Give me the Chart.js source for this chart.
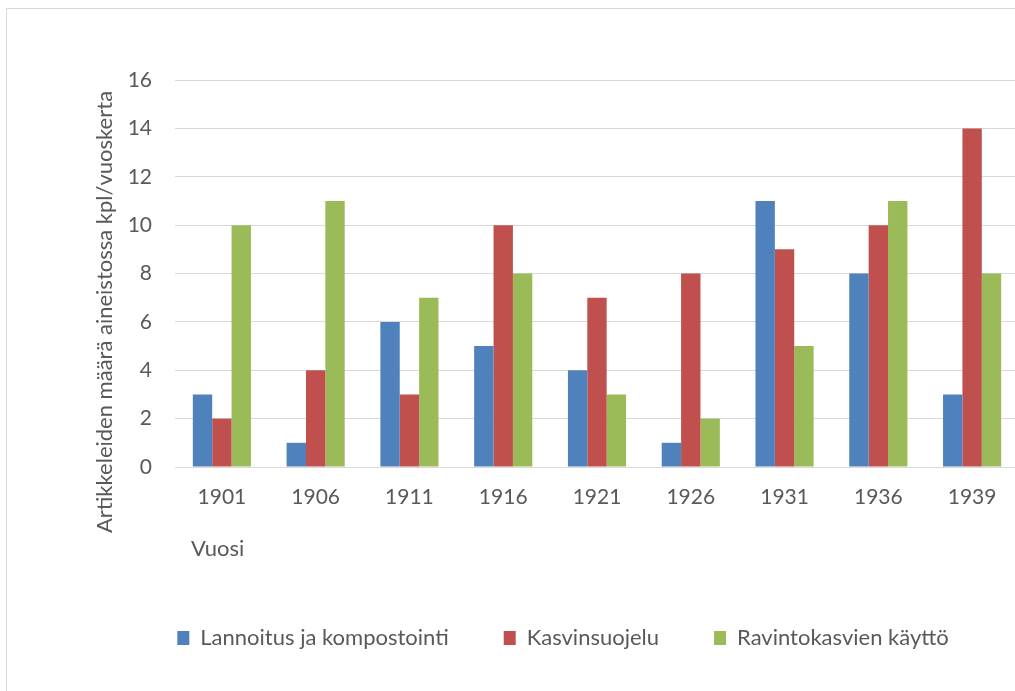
<!DOCTYPE html>
<html>
<head>
<meta charset="utf-8">
<script src="https://cdn.jsdelivr.net/npm/chart.js@4"></script>
<style>
  html, body { margin: 0; padding: 0; background: #fff; overflow: hidden; }
  #frame {
    position: absolute; left: 6px; top: 8px;
    border-left: 1px solid #d9d9d9; border-top: 1px solid #d9d9d9;
  }
  canvas { display: block; }
</style>
</head>
<body>
<div id="frame"><canvas id="chart" width="1012" height="682"></canvas></div>
<script>
const years = ['1901', '1906', '1911', '1916', '1921', '1926', '1931', '1936', '1939'];
const lannoitus = [3, 1, 6, 5, 4, 1, 11, 8, 3];
const kasvinsuojelu = [2, 4, 3, 10, 7, 8, 9, 10, 14];
const ravintokasvit = [10, 11, 7, 8, 3, 2, 5, 11, 8];

const FONT = 'Lato';
const TEXT = '#595959';
const GRID = '#d9d9d9';

// axis titles drawn by hand so they can sit where Excel put them
const axisTitles = {
  id: 'axisTitles',
  afterDraw(chart) {
    const {ctx, chartArea} = chart;
    ctx.save();
    ctx.fillStyle = TEXT;
    ctx.font = '22px ' + FONT;
    ctx.textBaseline = 'middle';
    ctx.textAlign = 'center';
    ctx.translate(chartArea.left - 70, chartArea.bottom - 155);
    ctx.rotate(-Math.PI / 2);
    ctx.fillText('Artikkeleiden määrä aineistossa kpl/vuoskerta', 0, 0);
    ctx.restore();

    ctx.save();
    ctx.fillStyle = TEXT;
    ctx.font = '22px ' + FONT;
    ctx.textBaseline = 'middle';
    ctx.textAlign = 'left';
    ctx.fillText('Vuosi', chartArea.left + 16, chartArea.bottom + 82);
    ctx.restore();
  }
};

new Chart(document.getElementById('chart'), {
  type: 'bar',
  data: {
    labels: years,
    datasets: [
      { label: 'Lannoitus ja kompostointi', data: lannoitus, backgroundColor: '#4f81bd' },
      { label: 'Kasvinsuojelu', data: kasvinsuojelu, backgroundColor: '#c0504d' },
      { label: 'Ravintokasvien käyttö', data: ravintokasvit, backgroundColor: '#9bbb59' }
    ]
  },
  options: {
    responsive: false,
    animation: false,
    categoryPercentage: 0.62,
    barPercentage: 1,
    layout: { padding: { left: 100, right: 0, top: 71, bottom: 32 } },
    scales: {
      x: {
        grid: { display: false, drawTicks: false },
        border: { color: GRID, width: 1 },
        ticks: { color: TEXT, font: { family: FONT, size: 21 }, padding: 18, maxRotation: 0 },
        afterFit(scale) { scale.height = 105; }
      },
      y: {
        min: 0,
        max: 16,
        ticks: { stepSize: 2, color: TEXT, font: { family: FONT, size: 21 }, padding: 23 },
        grid: { color: GRID, lineWidth: 1, drawTicks: false },
        border: { display: false },
        afterFit(scale) { scale.width = 68; }
      }
    },
    plugins: {
      legend: {
        position: 'bottom',
        labels: {
          boxWidth: 12,
          boxHeight: 14,
          padding: 55,
          color: TEXT,
          font: { family: FONT, size: 22 }
        }
      },
      tooltip: { enabled: false }
    }
  },
  plugins: [axisTitles]
});
</script>
</body>
</html>
